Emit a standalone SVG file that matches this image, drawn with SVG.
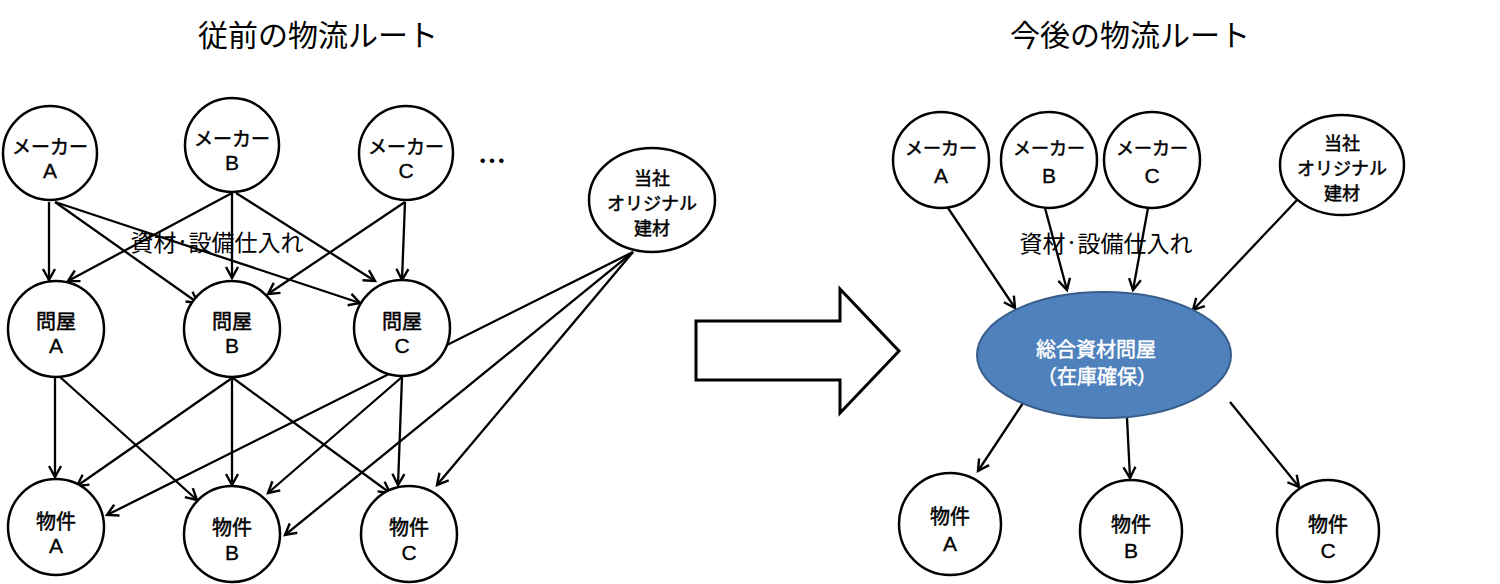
<svg xmlns="http://www.w3.org/2000/svg" width="1500" height="584" viewBox="0 0 1500 584">
<style>
.n{fill:#fff;stroke:#000;stroke-width:2.5}
.hub{fill:#4F81BD;stroke:#385D8A;stroke-width:2}
.t{font-family:"Liberation Sans","Noto Sans CJK JP",sans-serif;font-size:20px;text-anchor:middle;dominant-baseline:central;fill:#000}
.j{font-family:"Noto Sans CJK JP",sans-serif;stroke:#000;stroke-width:0.5}
.o{font-size:18px}
.l{font-family:"Liberation Sans",sans-serif;font-size:21px;stroke:#000;stroke-width:0.3}
.w{fill:#fff;stroke:#fff;font-size:20px}
.title{font-family:"Noto Sans CJK JP",sans-serif;font-size:30px;text-anchor:middle;dominant-baseline:central;fill:#000}
.lab{font-family:"Noto Sans CJK JP",sans-serif;font-size:23px;text-anchor:middle;dominant-baseline:central;fill:#000}
.c line{stroke:#000;stroke-width:2.3;marker-end:url(#ah)}
</style>
<defs>
<marker id="ah" markerUnits="userSpaceOnUse" markerWidth="16" markerHeight="16" viewBox="-13 -8 15 16" refX="0" refY="0" orient="auto">
<path d="M-11,-6 L0,0 L-11,6" fill="none" stroke="#000" stroke-width="2.4"/>
</marker>
</defs>
<rect width="1500" height="584" fill="#fff"/>
<text class="title" x="318" y="33">従前の物流ルート</text>
<text class="title" x="1130" y="33">今後の物流ルート</text>

<g id="connectors" class="c">
<line x1="49" y1="202" x2="49" y2="280"/>
<line x1="55" y1="202" x2="198" y2="303"/>
<line x1="55" y1="202" x2="360" y2="303"/>
<line x1="232" y1="193" x2="68" y2="281"/>
<line x1="232" y1="193" x2="232" y2="278"/>
<line x1="236" y1="193" x2="375" y2="281"/>
<line x1="405" y1="202" x2="268" y2="294"/>
<line x1="405" y1="202" x2="402" y2="280"/>
<line x1="55" y1="377" x2="55" y2="477"/>
<line x1="60" y1="377" x2="197" y2="500"/>
<line x1="232" y1="378" x2="77" y2="486"/>
<line x1="232" y1="378" x2="232" y2="485"/>
<line x1="233" y1="378" x2="390" y2="493"/>
<line x1="402" y1="377" x2="268" y2="493"/>
<line x1="402" y1="377" x2="398" y2="485"/>
<line x1="633" y1="252" x2="107" y2="515"/>
<line x1="633" y1="252" x2="285" y2="535"/>
<line x1="633" y1="252" x2="437" y2="485"/>
<line x1="948" y1="208" x2="1015" y2="308"/>
<line x1="1045" y1="208" x2="1067" y2="290"/>
<line x1="1148" y1="208" x2="1133" y2="290"/>
<line x1="1297" y1="200" x2="1193" y2="310"/>
<line x1="1025" y1="400" x2="978" y2="471"/>
<line x1="1127" y1="418" x2="1130" y2="478"/>
<line x1="1230" y1="402" x2="1299" y2="487"/>
</g>

<text class="lab" x="217" y="241">資材<tspan style="font-size:12px;font-weight:bold">・</tspan>設備仕入れ</text>
<text class="lab" x="1106" y="242">資材<tspan style="font-size:12px;font-weight:bold">・</tspan>設備仕入れ</text>
<text class="t" x="492" y="160" style="font-family:'Noto Sans CJK JP',sans-serif;font-size:28px;font-weight:bold">…</text>

<g id="makerA-L"><circle class="n" cx="50" cy="153" r="47"/><text class="t j" x="50" y="145" style="font-size:19px">メーカー</text><text class="t l" x="50" y="170">A</text></g>
<g id="makerB-L"><circle class="n" cx="232" cy="145" r="47"/><text class="t j" x="232" y="137" style="font-size:19px">メーカー</text><text class="t l" x="232" y="162">B</text></g>
<g id="makerC-L"><circle class="n" cx="406" cy="153" r="47"/><text class="t j" x="406" y="145" style="font-size:19px">メーカー</text><text class="t l" x="406" y="170">C</text></g>
<g id="original-L"><ellipse class="n" cx="652" cy="200" rx="63" ry="52"/><text class="t j o" x="652" y="177">当社</text><text class="t j o" x="652" y="202">オリジナル</text><text class="t j o" x="652" y="227">建材</text></g>
<g id="tonyaA"><circle class="n" cx="56" cy="329" r="48"/><text class="t j" x="56" y="320">問屋</text><text class="t l" x="56" y="345">A</text></g>
<g id="tonyaB"><circle class="n" cx="232" cy="329" r="48"/><text class="t j" x="232" y="320">問屋</text><text class="t l" x="232" y="345">B</text></g>
<g id="tonyaC"><circle class="n" cx="402" cy="328" r="48"/><text class="t j" x="402" y="320">問屋</text><text class="t l" x="402" y="345">C</text></g>
<g id="bukkenA-L"><circle class="n" cx="56" cy="527" r="48"/><text class="t j" x="56" y="520">物件</text><text class="t l" x="56" y="545">A</text></g>
<g id="bukkenB-L"><circle class="n" cx="232" cy="534" r="48"/><text class="t j" x="232" y="526">物件</text><text class="t l" x="232" y="552">B</text></g>
<g id="bukkenC-L"><circle class="n" cx="409" cy="534" r="48"/><text class="t j" x="409" y="526">物件</text><text class="t l" x="409" y="552">C</text></g>

<g id="bigArrow"><polygon points="696,321 840,321 840,289 899,351 840,413 840,380 696,380" fill="#fff" stroke="#000" stroke-width="3"/></g>

<g id="makerA-R"><circle class="n" cx="941" cy="160" r="48"/><text class="t j" x="941" y="147" style="font-size:18px">メーカー</text><text class="t l" x="941" y="175">A</text></g>
<g id="makerB-R"><circle class="n" cx="1049" cy="160" r="48"/><text class="t j" x="1049" y="147" style="font-size:18px">メーカー</text><text class="t l" x="1049" y="175">B</text></g>
<g id="makerC-R"><circle class="n" cx="1152" cy="160" r="48"/><text class="t j" x="1152" y="147" style="font-size:18px">メーカー</text><text class="t l" x="1152" y="175">C</text></g>
<g id="original-R"><ellipse class="n" cx="1342" cy="165" rx="62" ry="50"/><text class="t j o" x="1342" y="142">当社</text><text class="t j o" x="1342" y="167">オリジナル</text><text class="t j o" x="1342" y="192">建材</text></g>
<g id="hub"><ellipse class="hub" cx="1104" cy="355" rx="127" ry="63"/><text class="t j w" x="1096" y="348">総合資材問屋</text><text class="t j w" x="1097" y="375">（在庫確保）</text></g>
<g id="bukkenA-R"><circle class="n" cx="950" cy="524" r="51"/><text class="t j" x="950" y="515">物件</text><text class="t l" x="950" y="543">A</text></g>
<g id="bukkenB-R"><circle class="n" cx="1131" cy="531" r="51"/><text class="t j" x="1131" y="523">物件</text><text class="t l" x="1131" y="550">B</text></g>
<g id="bukkenC-R"><circle class="n" cx="1328" cy="531" r="51"/><text class="t j" x="1328" y="523">物件</text><text class="t l" x="1328" y="550">C</text></g>
</svg>
